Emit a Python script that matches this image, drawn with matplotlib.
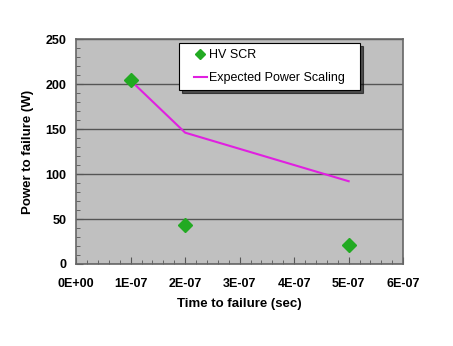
import matplotlib.pyplot as plt
from matplotlib.ticker import MultipleLocator, FuncFormatter
from matplotlib.legend_handler import HandlerLine2D

plt.rcParams['font.family'] = ['Liberation Sans', 'DejaVu Sans']

# measured failure points
scr_time = [1e-7, 2e-7, 5e-7]
scr_power = [204, 43, 21]

# expected scaling curve from the first point
exp_time = [1e-7, 2e-7, 5e-7]
exp_power = [204, 146, 92]

fig = plt.figure(figsize=(4.53, 3.46), dpi=100)
ax = fig.add_axes([0.168, 0.237, 0.722, 0.650])
ax.set_facecolor('#c0c0c0')

ax.plot(exp_time, exp_power, color='#e020e0', lw=1.5, label='Expected Power Scaling', zorder=3)
ax.plot(scr_time, scr_power, ls='none', marker='D', ms=7, color='#22aa22',
        label='HV SCR', zorder=4)

ax.set_xlim(0, 6e-7)
ax.set_ylim(0, 250)
ax.xaxis.set_major_locator(MultipleLocator(1e-7))
ax.xaxis.set_minor_locator(MultipleLocator(2e-8))
ax.yaxis.set_major_locator(MultipleLocator(50))
ax.yaxis.set_minor_locator(MultipleLocator(10))

def sci_label(v, pos):
    if abs(v) < 1e-12:
        return '0E+00'
    return '%dE-07' % round(v / 1e-7)

ax.xaxis.set_major_formatter(FuncFormatter(sci_label))
ax.grid(axis='y', color='#555555', lw=1)
ax.set_axisbelow(True)

ax.tick_params(which='both', direction='in', colors='#555555', labelcolor='black',
               labelsize=9)
ax.tick_params(which='major', length=5)
ax.tick_params(which='minor', length=3)
ax.tick_params(axis='x', which='major', pad=10)
ax.tick_params(axis='y', which='major', pad=7)
for lbl in ax.get_xticklabels() + ax.get_yticklabels():
    lbl.set_fontweight('bold')
for s in ax.spines.values():
    s.set_color('#666666')
    s.set_linewidth(1.2)

ax.set_xlabel('Time to failure (sec)', fontsize=9.5, fontweight='bold', labelpad=6)
ax.set_ylabel('Power to failure (W)', fontsize=9.5, fontweight='bold', labelpad=8)

handles, labels = ax.get_legend_handles_labels()
leg = ax.legend(handles[::-1], labels[::-1], loc='upper left',
                bbox_to_anchor=(0.315, 0.5, 0.553, 0.482), mode='expand',
                borderaxespad=0, fontsize=9, frameon=True,
                fancybox=False, shadow={'ox': 2, 'oy': -2, 'color': 'black', 'alpha': 0.6},
                edgecolor='black', framealpha=1,
                handlelength=1.75, handletextpad=0.1, borderpad=0.5,
                labelspacing=0.85, markerscale=0.7,
                handler_map={h: HandlerLine2D(xpad=0.65) for h in handles})
leg.get_frame().set_linewidth(0.8)

fig.savefig('out.png', dpi=100)
